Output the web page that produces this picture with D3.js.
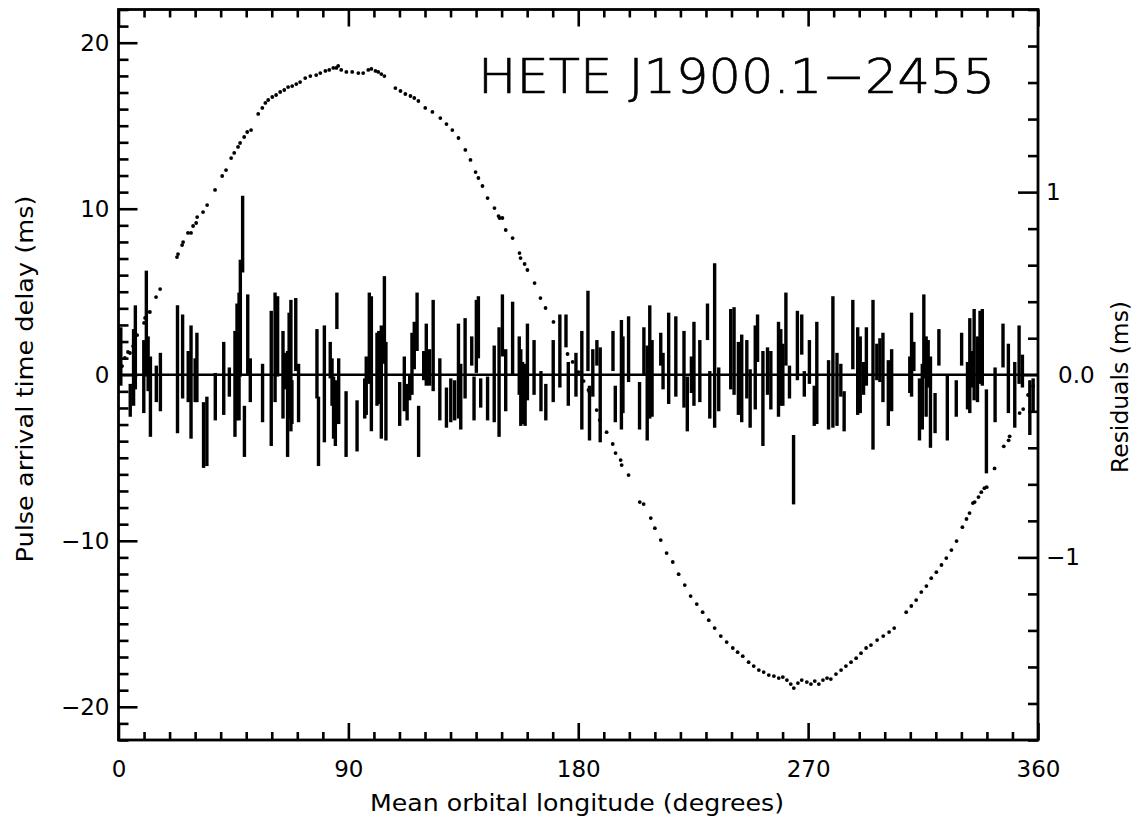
<!DOCTYPE html>
<html>
<head>
<meta charset="utf-8">
<script src="https://cdn.jsdelivr.net/npm/d3@7"></script>
<style>
  html, body { margin: 0; padding: 0; background: #fff; }
  svg text { font-family: "DejaVu Sans", "Liberation Sans", sans-serif; fill: #000; }
</style>
</head>
<body>
<svg id="chart" width="1132" height="817"></svg>
<script>
// Orbital delay curve: [mean orbital longitude (deg), pulse arrival delay (ms)]
const delayPoints = [
  [1.4,0.52],[2.5,1.01],[3.7,1.37],[4.5,1.31],[5.7,1.73],[7.3,2.39],[10.0,3.12],[10.4,3.42],
  [11.2,3.78],[12.3,3.78],[14.7,4.68],[16.3,5.16],[22.9,7.09],[23.3,7.27],[24.9,7.81],[25.3,7.99],
  [27.2,8.54],[28.4,8.54],[29.2,8.96],[30.4,9.14],[30.8,9.50],[33.1,9.80],[34.7,10.22],[37.8,11.13],
  [40.6,11.97],[42.1,12.33],[44.1,13.05],[45.3,13.36],[46.8,13.72],[47.6,13.96],[49.2,14.32],[50.4,14.62],
  [51.9,14.74],[54.7,15.71],[56.3,16.07],[57.5,16.37],[58.6,16.55],[60.2,16.73],[61.7,16.85],[63.3,17.03],
  [64.9,17.15],[66.4,17.33],[68.0,17.39],[69.6,17.51],[71.1,17.63],[73.1,17.87],[75.1,17.99],[77.4,18.05],
  [79.0,18.17],[81.0,18.30],[82.5,18.36],[84.1,18.48],[85.3,18.48],[86.0,18.60],[87.2,18.36],[89.2,18.24],
  [91.5,18.24],[93.9,18.17],[95.8,18.17],[97.8,18.36],[99.0,18.42],[100.6,18.30],[101.7,18.24],[102.9,18.11],
  [104.1,17.99],[108.4,17.27],[110.4,17.09],[112.3,16.91],[114.3,16.79],[115.8,16.67],[117.4,16.49],[120.1,16.07],
  [122.9,15.83],[126.0,15.46],[128.4,15.10],[130.7,14.74],[133.1,14.26],[135.8,13.54],[137.8,12.94],[139.8,12.21],
  [140.9,11.85],[142.5,11.37],[144.5,10.64],[147.2,10.04],[148.8,9.56],[149.2,9.44],[150.3,9.44],[151.6,8.72],
  [154.3,8.23],[157.0,7.33],[157.4,7.03],[159.0,6.67],[160.1,6.31],[162.9,5.52],[165.2,4.62],[167.2,4.02],
  [170.3,3.18],[175.8,1.25],[177.8,0.77],[180.1,0.16],[182.1,-0.38],[184.0,-0.92],[184.4,-1.04],[187.2,-2.13],
  [188.4,-2.73],[191.1,-3.46],[193.5,-4.17],[194.6,-4.72],[196.6,-5.14],[197.0,-5.44],[199.7,-6.04],[204.1,-7.67],
  [205.6,-7.79],[208.4,-8.63],[210.0,-9.24],[212.3,-9.96],[214.6,-10.74],[217.0,-11.28],[219.3,-12.01],[221.7,-12.67],
  [224.0,-13.33],[226.4,-13.81],[228.7,-14.30],[231.1,-14.78],[233.4,-15.26],[235.8,-15.74],[238.1,-16.10],[240.5,-16.46],
  [242.4,-16.71],[244.4,-16.95],[246.7,-17.31],[248.7,-17.55],[250.7,-17.79],[252.6,-17.91],[254.6,-18.09],[256.6,-18.15],
  [258.5,-18.27],[260.1,-18.21],[261.7,-18.39],[263.2,-18.63],[264.4,-18.87],[266.0,-18.57],[267.5,-18.39],[269.5,-18.51],
  [271.1,-18.63],[272.6,-18.45],[274.2,-18.63],[275.8,-18.39],[277.4,-18.27],[278.9,-18.33],[280.9,-18.03],[282.9,-17.79],
  [284.8,-17.55],[286.8,-17.31],[288.8,-17.07],[290.7,-16.77],[292.7,-16.46],[294.6,-16.28],[297.0,-15.98],[299.4,-15.74],
  [301.7,-15.50],[303.7,-15.26],[308.4,-14.30],[310.4,-13.93],[312.3,-13.57],[314.3,-13.09],[316.3,-12.73],[318.2,-12.25],
  [320.2,-11.89],[322.2,-11.46],[324.1,-11.04],[326.1,-10.56],[328.1,-10.02],[330.4,-9.18],[332.0,-8.69],[333.2,-8.33],
  [334.5,-7.73],[335.2,-7.67],[336.7,-7.37],[337.8,-7.07],[339.0,-6.83],[339.9,-6.77],[343.0,-5.64],[346.6,-4.31],
  [348.5,-3.95],[348.9,-3.71],[352.8,-2.31],[354.2,-2.07],[356.1,-1.22],[358.1,-0.68]
];

// Timing residuals: [longitude (deg), residual (ms), 1-sigma error (ms)]
const residuals = [
  [0.9,0.10,0.16],[4.6,-0.14,0.09],[5.9,0.04,0.21],[6.6,0.15,0.23],[9.9,-0.01,0.20],[10.9,0.28,0.29],
  [11.6,0.06,0.15],[12.5,-0.12,0.22],[14.8,-0.05,0.10],[16.4,-0.04,0.16],[23.1,0.03,0.35],[25.1,0.10,0.23],
  [27.3,-0.01,0.14],[28.4,-0.04,0.31],[30.0,-0.03,0.12],[30.7,0.04,0.19],[33.3,-0.33,0.18],[34.6,-0.31,0.19],
  [37.9,-0.12,0.13],[41.2,-0.02,0.20],[43.4,-0.04,0.08],[45.6,-0.05,0.29],[46.4,0.07,0.32],[47.2,0.10,0.35],
  [47.7,0.31,0.32],[48.6,0.77,0.21],[49.3,-0.31,0.14],[50.6,0.22,0.22],[51.6,-0.03,0.12],[56.4,-0.10,0.16],
  [59.8,-0.02,0.37],[61.3,0.15,0.30],[62.3,0.21,0.22],[64.4,0.00,0.24],[65.3,0.02,0.10],[66.2,-0.16,0.29],
  [66.8,0.05,0.29],[67.5,0.05,0.36],[67.9,-0.15,0.12],[69.4,0.22,0.20],[70.5,-0.10,0.16],[77.7,0.06,0.19],
  [78.3,-0.31,0.19],[80.6,-0.05,0.32],[82.9,0.08,0.10],[83.6,-0.04,0.13],[84.2,-0.18,0.17],[84.9,-0.21,0.18],
  [85.5,0.35,0.10],[86.2,-0.09,0.18],[89.1,-0.27,0.18],[93.4,-0.28,0.14],[96.4,-0.13,0.11],[97.0,-0.06,0.16],
  [98.2,0.20,0.25],[99.0,0.06,0.37],[101.2,0.03,0.20],[101.9,0.04,0.20],[102.9,-0.04,0.31],[104.1,0.30,0.24],
  [104.7,-0.09,0.27],[110.1,-0.16,0.12],[111.9,-0.05,0.15],[113.0,-0.15,0.10],[114.0,-0.07,0.07],[114.9,0.06,0.17],
  [115.8,0.16,0.13],[116.9,0.29,0.16],[117.5,-0.31,0.14],[119.5,0.05,0.08],[120.5,0.11,0.17],[121.8,0.04,0.10],
  [123.2,0.16,0.25],[125.8,-0.08,0.17],[128.4,-0.18,0.11],[130.1,-0.14,0.12],[131.6,-0.14,0.11],[133.1,0.02,0.26],
  [134.0,-0.12,0.18],[135.7,0.09,0.22],[138.3,0.13,0.08],[139.2,-0.13,0.12],[140.1,0.21,0.20],[140.9,0.26,0.17],
  [141.8,-0.10,0.08],[144.5,-0.13,0.12],[147.1,-0.05,0.21],[149.0,-0.04,0.30],[150.3,0.27,0.17],[151.6,-0.03,0.17],
  [154.3,0.20,0.20],[156.9,0.05,0.16],[157.5,-0.07,0.21],[158.2,-0.10,0.17],[159.2,-0.11,0.17],[160.1,0.07,0.21],
  [162.7,0.04,0.15],[165.4,-0.09,0.11],[167.3,-0.15,0.10],[170.2,0.02,0.17],[172.8,0.13,0.20],[175.2,0.24,0.09],
  [176.1,-0.05,0.12],[179.1,0.00,0.12],[181.4,-0.03,0.27],[183.8,0.24,0.22],[184.4,-0.21,0.15],[185.7,0.01,0.13],
  [187.3,0.12,0.07],[188.6,-0.11,0.26],[193.6,0.13,0.11],[194.5,-0.16,0.10],[196.9,0.00,0.30],[197.5,0.00,0.21],
  [199.7,0.14,0.18],[204.0,-0.17,0.13],[205.7,0.13,0.13],[207.0,-0.10,0.26],[208.0,0.07,0.31],[208.9,-0.02,0.21],
  [212.3,0.14,0.09],[213.2,0.02,0.10],[215.4,0.09,0.25],[218.2,0.10,0.22],[221.4,0.03,0.21],[222.7,-0.16,0.15],
  [224.3,0.00,0.10],[225.3,0.06,0.23],[227.6,0.02,0.17],[230.6,0.29,0.10],[231.5,-0.11,0.13],[233.4,0.16,0.45],
  [235.0,-0.08,0.12],[239.7,0.14,0.22],[241.0,0.13,0.24],[242.7,-0.02,0.20],[244.0,-0.02,0.24],[246.0,0.03,0.16],
  [247.3,-0.13,0.16],[249.3,0.04,0.23],[250.2,0.20,0.13],[252.3,-0.13,0.26],[254.1,0.02,0.13],[255.4,-0.03,0.16],
  [258.4,0.03,0.26],[259.3,0.04,0.21],[260.1,0.00,0.17],[261.3,0.25,0.20],[262.7,-0.04,0.09],[264.3,-0.52,0.19],
  [265.8,0.16,0.19],[267.5,0.22,0.11],[268.5,-0.05,0.07],[270.5,0.07,0.12],[272.4,-0.17,0.11],[273.4,0.01,0.28],
  [278.0,-0.11,0.19],[279.7,0.07,0.36],[281.3,-0.08,0.20],[282.8,-0.03,0.09],[284.1,-0.20,0.11],[287.5,0.22,0.19],
  [289.4,0.02,0.24],[290.4,0.00,0.21],[291.7,-0.02,0.09],[292.8,0.10,0.16],[295.4,0.00,0.41],[296.9,0.07,0.10],
  [298.1,0.08,0.12],[299.3,0.04,0.19],[301.4,-0.10,0.18],[302.7,-0.03,0.17],[309.8,0.00,0.10],[310.5,0.11,0.23],
  [311.4,0.10,0.08],[313.6,-0.19,0.17],[314.7,-0.12,0.18],[315.3,0.21,0.23],[316.2,-0.01,0.22],[317.0,0.06,0.13],
  [317.9,-0.15,0.25],[319.7,-0.21,0.11],[321.2,0.15,0.10],[324.5,-0.18,0.18],[328.0,-0.13,0.10],[330.1,0.14,0.09],
  [332.4,-0.06,0.13],[333.3,0.05,0.26],[334.3,0.03,0.10],[335.0,0.11,0.25],[336.3,0.03,0.18],[337.3,0.15,0.20],
  [338.2,0.15,0.21],[339.8,-0.31,0.23],[343.2,-0.11,0.15],[346.3,0.16,0.12],[348.4,-0.02,0.19],[350.9,-0.11,0.18],
  [352.6,0.11,0.16],[353.9,0.02,0.09],[356.8,-0.18,0.15],[358.1,-0.11,0.09]
];

// Axis ticks and labels
const xMajorTicks = [0, 90, 180, 270, 360];
const xMinorStep = 10;
const yLeftMajorTicks = [-20, -10, 0, 10, 20];
const yLeftMinorStep = 1;
const yRightMajorTicks = [-1, 0, 1];
const yRightTickLabels = ["\u22121", "0.0", "1"];
const yRightMinorStep = 0.2;

const titleText = "HETE J1900.1\u22122455";
const xTitle = "Mean orbital longitude (degrees)";
const yLeftTitle = "Pulse arrival time delay (ms)";
const yRightTitle = "Residuals (ms)";

const xDomain = [0, 360];
const yLeftDomain = [-22, 22];
const yRightDomain = [-2, 2];

// ---- layout ----
const plot = { left: 118.5, right: 1038, top: 9.5, bottom: 740 };
const svg = d3.select("#chart");

const x = d3.scaleLinear().domain(xDomain).range([plot.left, plot.right]);
const yL = d3.scaleLinear().domain(yLeftDomain).range([plot.bottom, plot.top]);
const yR = d3.scaleLinear().domain(yRightDomain).range([plot.bottom, plot.top]);

const range = (a, b, step) => d3.range(Math.round(a / step), Math.round(b / step) + 1).map(i => +(i * step).toFixed(6));

const tickFont = 23;
function styleAxis(g) {
  g.select(".domain").remove();
  g.selectAll(".tick line").attr("stroke", "#000").attr("stroke-width", 2.6);
  g.selectAll(".tick text").style("font-size", tickFont + "px");
}

// bottom axis
svg.append("g").attr("transform", `translate(0,${plot.bottom})`)
  .call(d3.axisBottom(x).tickValues(range(0, 360, xMinorStep).filter(v => !xMajorTicks.includes(v))).tickSize(-8).tickFormat(""))
  .call(styleAxis);
svg.append("g").attr("transform", `translate(0,${plot.bottom})`)
  .call(d3.axisBottom(x).tickValues(xMajorTicks).tickSize(-17).tickPadding(21).tickFormat(d3.format("d")))
  .call(styleAxis);
// top axis (ticks only)
svg.append("g").attr("transform", `translate(0,${plot.top})`)
  .call(d3.axisTop(x).tickValues(range(0, 360, xMinorStep).filter(v => !xMajorTicks.includes(v))).tickSize(-8).tickFormat(""))
  .call(styleAxis);
svg.append("g").attr("transform", `translate(0,${plot.top})`)
  .call(d3.axisTop(x).tickValues(xMajorTicks).tickSize(-17).tickFormat(""))
  .call(styleAxis);

// left axis (delay)
svg.append("g").attr("transform", `translate(${plot.left},0)`)
  .call(d3.axisLeft(yL).tickValues(range(-22, 22, yLeftMinorStep).filter(v => !yLeftMajorTicks.includes(v))).tickSize(-10).tickFormat(""))
  .call(styleAxis);
svg.append("g").attr("transform", `translate(${plot.left},0)`)
  .call(d3.axisLeft(yL).tickValues(yLeftMajorTicks).tickSize(-19).tickPadding(9).tickFormat(d3.format("d")))
  .call(styleAxis);

// right axis (residuals)
svg.append("g").attr("transform", `translate(${plot.right},0)`)
  .call(d3.axisRight(yR).tickValues(range(-2, 2, yRightMinorStep).filter(v => !yRightMajorTicks.includes(v))).tickSize(-10).tickFormat(""))
  .call(styleAxis);
const rightAxis = svg.append("g").attr("transform", `translate(${plot.right},0)`)
  .call(d3.axisRight(yR).tickValues(yRightMajorTicks).tickSize(-20).tickPadding(8)
    .tickFormat((d, i) => yRightTickLabels[i]))
  .call(styleAxis);
rightAxis.selectAll(".tick text").attr("dx", d => d === 0 ? 12 : 0);

// zero line
svg.append("line")
  .attr("x1", plot.left).attr("x2", plot.right)
  .attr("y1", yL(0)).attr("y2", yL(0))
  .attr("stroke", "#000").attr("stroke-width", 2.6);

// residual error bars
const bars = svg.append("g").attr("class", "residuals");
bars.selectAll("line").data(residuals).join("line")
  .attr("x1", d => x(d[0])).attr("x2", d => x(d[0]))
  .attr("y1", d => yR(d[1] + d[2])).attr("y2", d => yR(d[1] - d[2]))
  .attr("stroke", "#000").attr("stroke-width", 3.4);

// orbital delay points
svg.append("g").attr("class", "delay")
  .selectAll("circle").data(delayPoints).join("circle")
  .attr("cx", d => x(d[0])).attr("cy", d => yL(d[1]))
  .attr("r", 1.9).attr("fill", "#000");

// frame
svg.append("rect")
  .attr("x", plot.left).attr("y", plot.top)
  .attr("width", plot.right - plot.left).attr("height", plot.bottom - plot.top)
  .attr("fill", "none").attr("stroke", "#000").attr("stroke-width", 2.8);

// title inside the plot
svg.append("text")
  .attr("x", 478).attr("y", 93)
  .attr("textLength", 517).attr("lengthAdjust", "spacingAndGlyphs")
  .style("font-size", "48px").style("font-weight", 200)
  .style("stroke", "#000").style("stroke-width", 0.7)
  .text(titleText);

// axis titles
svg.append("text")
  .attr("x", 577).attr("y", 811)
  .attr("text-anchor", "middle").style("font-size", "23px")
  .attr("textLength", 414).attr("lengthAdjust", "spacingAndGlyphs")
  .text(xTitle);
svg.append("text")
  .attr("transform", `translate(33,${379}) rotate(-90)`)
  .attr("text-anchor", "middle").style("font-size", "23px")
  .attr("textLength", 367).attr("lengthAdjust", "spacingAndGlyphs")
  .text(yLeftTitle);
svg.append("text")
  .attr("transform", `translate(1128,${387}) rotate(-90)`)
  .attr("text-anchor", "middle").style("font-size", "23px")
  .attr("textLength", 172).attr("lengthAdjust", "spacingAndGlyphs")
  .text(yRightTitle);
</script>
</body>
</html>
